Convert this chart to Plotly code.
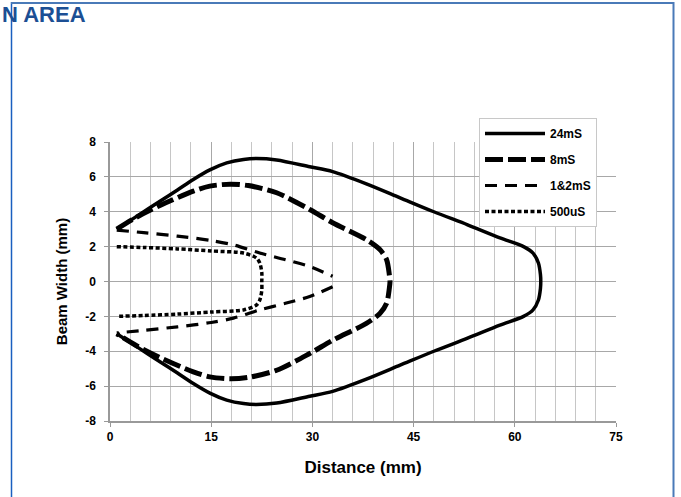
import plotly.graph_objects as go

# ---------------- data ----------------
x_24ms = [1, 4, 7.4, 10, 12.35, 14.8, 17.3, 19.8, 21.7, 24.7, 29.6, 33, 38, 43, 48, 53, 57.8, 61.3, 62.7, 63.5, 63.8, 63.85,
          63.8, 63.5, 62.7, 61.3, 57.8, 53, 48, 43, 38, 33, 29.6, 24.7, 21.7, 19.8, 17.3, 14.8, 12.35, 10, 7.4, 4, 1]
y_24ms = [3.0, 3.75, 4.6, 5.25, 5.85, 6.4, 6.8, 7.0, 7.05, 6.97, 6.58, 6.3, 5.6, 4.8, 4.0, 3.25, 2.5, 2.0, 1.63, 1.06, 0.4, 0,
          -0.4, -1.06, -1.63, -2.0, -2.5, -3.25, -4.0, -4.8, -5.6, -6.3, -6.58, -6.97, -7.05, -7.0, -6.8, -6.4, -5.85, -5.25, -4.6, -3.75, -3.0]

x_8ms = [1, 4, 7.4, 12.35, 14.8, 17.8, 20.5, 24.7, 29.6, 33, 38, 40, 41, 41.4, 41.5,
         41.4, 41, 40, 38, 33, 29.6, 24.7, 20.5, 17.8, 14.8, 12.35, 7.4, 4, 1]
y_8ms = [3.0, 3.7, 4.36, 5.18, 5.47, 5.58, 5.5, 5.09, 4.13, 3.37, 2.4, 1.83, 1.25, 0.4, 0,
         -0.4, -1.25, -1.83, -2.4, -3.37, -4.13, -5.09, -5.5, -5.58, -5.47, -5.18, -4.36, -3.7, -3.0]

x_12ms = [1, 5, 10, 15, 18.3, 22.2, 26, 29.6, 33, None, 33, 29.6, 26, 22.2, 18.3, 15, 10, 5, 1]
y_12ms = [2.95, 2.8, 2.6, 2.35, 2.1, 1.63, 1.25, 0.86, 0.3, None, -0.3, -0.86, -1.25, -1.63, -2.1, -2.35, -2.6, -2.8, -2.95]

x_500us = [1, 5, 10, 15, 19.8, 21.7, 22.2, 22.5, 22.5, 22.5, 22.2, 21.7, 19.8, 15, 10, 5, 1]
y_500us = [2.0, 1.95, 1.87, 1.75, 1.63, 1.35, 1.06, 0.5, 0, -0.5, -1.06, -1.35, -1.63, -1.75, -1.87, -1.95, -2.0]

series_names = ["24mS", "8mS", "1&2mS", "500uS"]
x_ticks = [0, 15, 30, 45, 60, 75]
y_ticks = [-8, -6, -4, -2, 0, 2, 4, 6, 8]

# ---------------- layout helpers (pixels -> paper) ----------------
W, H = 681, 497
L, R, T, B = 110, 65, 142, 76
PW, PH = W - L - R, H - T - B


def px(x):
    return (x - L) / PW


def py(y):
    return (H - B - y) / PH


FONT = "Liberation Sans Narrow, Arial Narrow, Liberation Sans, Arial, sans-serif"

fig = go.Figure()
styles = [
    dict(width=3.5, dash="solid"),
    dict(width=5, dash="18px,5px"),
    dict(width=3.2, dash="12px,8px"),
    dict(width=3.5, dash="4px,2.5px"),
]
data = [(x_24ms, y_24ms), (x_8ms, y_8ms), (x_12ms, y_12ms), (x_500us, y_500us)]
for name, (xs, ys), st in zip(series_names, data, styles):
    fig.add_trace(go.Scatter(
        x=xs, y=ys, mode="lines", name=name, legendgroup=name,
        line=dict(color="black", width=st["width"], dash=st["dash"], shape="spline", smoothing=0.8),
        connectgaps=False,
    ))

fig.update_layout(
    width=W, height=H,
    margin=dict(l=L, r=R, t=T, b=B, pad=0, autoexpand=False),
    paper_bgcolor="white", plot_bgcolor="white",
    font=dict(family=FONT, color="black", size=12),
    showlegend=True,
    legend=dict(
        x=px(479), y=py(118), xanchor="left", yanchor="top",
        bgcolor="white", bordercolor="#c8c8c8", borderwidth=1,
        font=dict(family=FONT, size=12, color="black", weight=700),
        tracegroupgap=7, itemwidth=60,
    ),
    xaxis=dict(
        range=[0, 75], tickvals=x_ticks, ticktext=[str(v) for v in x_ticks],
        showgrid=True, gridcolor="#a8a8a8", gridwidth=1,
        minor=dict(dtick=3, showgrid=True, gridcolor="#c6c6c6", gridwidth=1),
        showline=True, linecolor="#999999", linewidth=1.5,
        ticks="outside", ticklen=4, tickcolor="#999999",
        tickfont=dict(family=FONT, size=12, weight=700),
        zeroline=False,
        title=dict(text="Distance (mm)", font=dict(family="Liberation Sans, Arial", size=17, weight=700), standoff=18),
    ),
    yaxis=dict(
        range=[-8, 8], tickvals=y_ticks, ticktext=[str(v) for v in y_ticks],
        showgrid=True, gridcolor="#a8a8a8", gridwidth=1,
        showline=True, linecolor="#999999", linewidth=1.5,
        ticks="outside", ticklen=4, tickcolor="#999999",
        tickfont=dict(family=FONT, size=12, weight=700),
        ticklabelstandoff=6,
        zeroline=False,
        title=dict(text="Beam Width (mm)", font=dict(family="Liberation Sans, Arial", size=15, weight=700), standoff=14),
    ),
)

# page frame lines
fig.add_shape(type="line", xref="paper", yref="paper", x0=px(11.5), x1=px(11.5), y0=py(2), y1=py(H),
              line=dict(color="#1a5fc0", width=1.5))
fig.add_shape(type="line", xref="paper", yref="paper", x0=px(11), x1=px(674), y0=py(3), y1=py(3),
              line=dict(color="#4a7ab8", width=2))
fig.add_shape(type="line", xref="paper", yref="paper", x0=px(673.5), x1=px(673.5), y0=py(2), y1=py(H),
              line=dict(color="#4a7ab8", width=2))

# heading
fig.add_annotation(text="N AREA", xref="paper", yref="paper", x=px(1), y=py(14.5),
                   xanchor="left", yanchor="middle", showarrow=False, borderpad=0,
                   font=dict(family="Liberation Sans, Arial", size=22, color="#1c4f94", weight=700))

fig.write_html("out.html", config={"displayModeBar": False},
               post_script="document.body.style.margin='0';document.body.style.padding='0';")
